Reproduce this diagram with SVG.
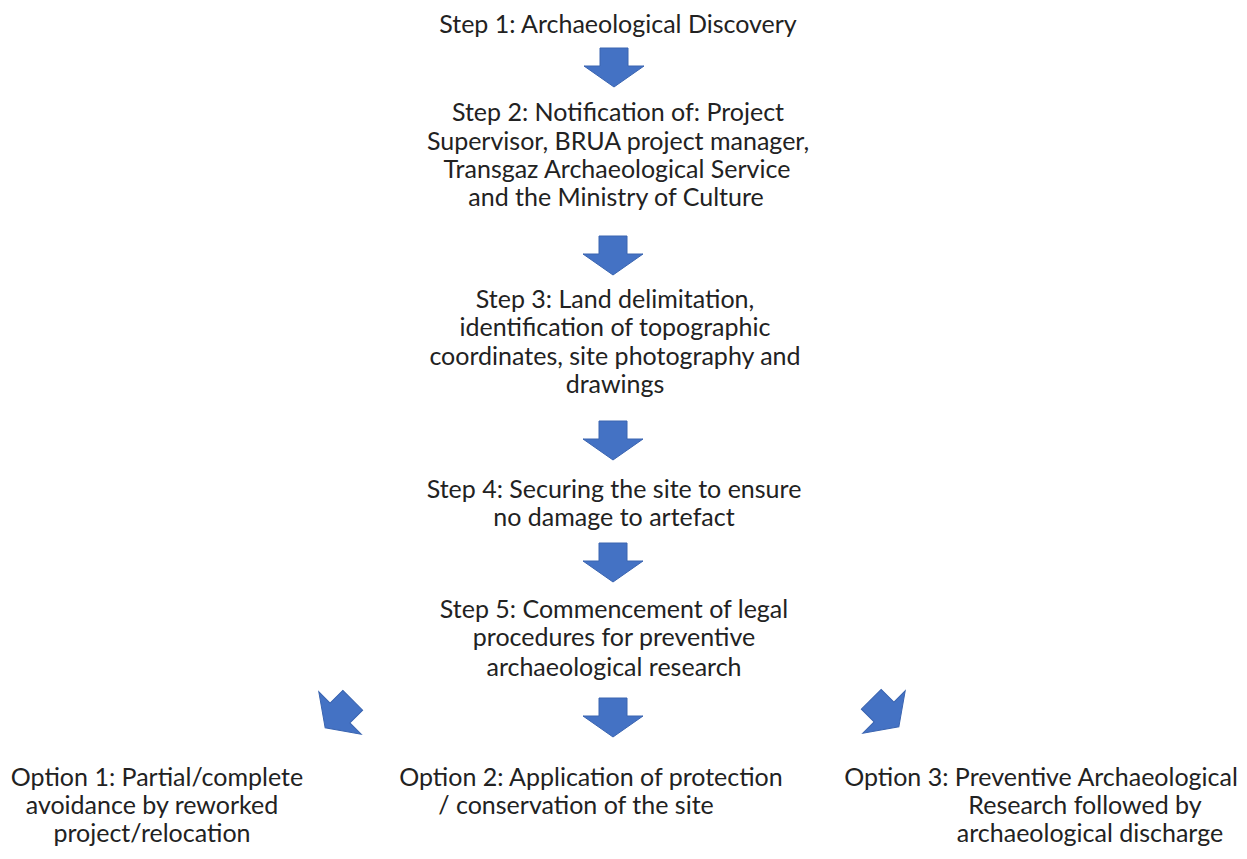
<svg xmlns="http://www.w3.org/2000/svg" width="1247" height="859" viewBox="0 0 1247 859">
<style>
.t{font-family:"Lato","Liberation Sans",sans-serif;font-size:25px;fill:#222;text-anchor:middle}
.a{fill:#4472C4;stroke:#3A64B0;stroke-width:1}
</style>
<defs>
<polygon id="arr" points="-14,-18 14,-18 14,0 30,0 0,21 -30,0 -14,0"/>
</defs>
<rect width="1247" height="859" fill="#fff"/>
<g id="step1"><text class="t" x="618" y="33">Step 1: Archaeological Discovery</text></g>
<g id="step2">
<text class="t" x="618" y="121">Step 2: Notification of: Project</text>
<text class="t" x="618" y="150">Supervisor, BRUA project manager,</text>
<text class="t" x="617" y="178">Transgaz Archaeological Service</text>
<text class="t" x="616" y="206">and the Ministry of Culture</text>
</g>
<g id="step3">
<text class="t" x="615" y="308">Step 3: Land delimitation,</text>
<text class="t" x="615" y="336">identification of topographic</text>
<text class="t" x="615" y="365">coordinates, site photography and</text>
<text class="t" x="615" y="393">drawings</text>
</g>
<g id="step4">
<text class="t" x="614" y="498">Step 4: Securing the site to ensure</text>
<text class="t" x="614" y="526">no damage to artefact</text>
</g>
<g id="step5">
<text class="t" x="614" y="618">Step 5: Commencement of legal</text>
<text class="t" x="614" y="646">procedures for preventive</text>
<text class="t" x="614" y="676">archaeological research</text>
</g>
<g id="option1">
<text class="t" x="157" y="786">Option 1: Partial/complete</text>
<text class="t" x="152" y="814">avoidance by reworked</text>
<text class="t" x="152" y="842">project/relocation</text>
</g>
<g id="option2">
<text class="t" x="591" y="786">Option 2: Application of protection</text>
<text class="t" x="576" y="814">/ conservation of the site</text>
</g>
<g id="option3">
<text class="t" x="1041" y="786">Option 3: Preventive Archaeological</text>
<text class="t" x="1085" y="814">Research followed by</text>
<text class="t" x="1090" y="842">archaeological discharge</text>
</g>
<g id="connectors">
<use href="#arr" class="a" transform="translate(614,66)"/>
<use href="#arr" class="a" transform="translate(613,254)"/>
<use href="#arr" class="a" transform="translate(613,439)"/>
<use href="#arr" class="a" transform="translate(613,561)"/>
<use href="#arr" class="a" transform="translate(613,716)"/>
<use href="#arr" class="a" transform="translate(340,713) rotate(45)"/>
<use href="#arr" class="a" transform="translate(884,712) rotate(-45)"/>
</g>
</svg>
